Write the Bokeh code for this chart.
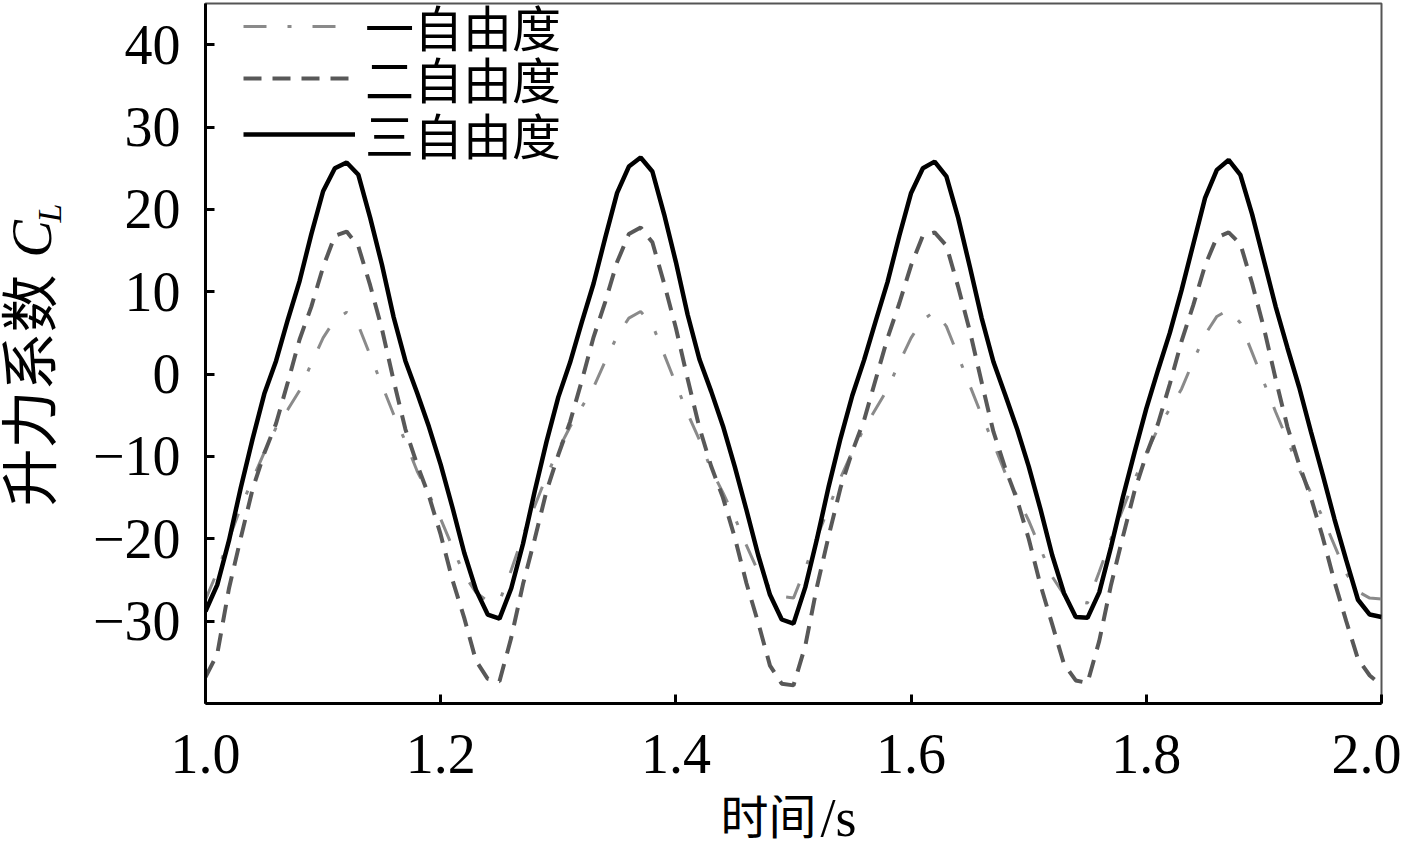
import numpy as np
from bokeh.plotting import figure
from bokeh.layouts import row, column
from bokeh.models import (Range1d, FixedTicker, Legend, LegendItem,
                          NumeralTickFormatter)
from bokeh.core.properties import value
from bokeh.embed import file_html
from bokeh.resources import INLINE

# ---------------- data ----------------
time_s = [round(1.0 + 0.01 * i, 2) for i in range(101)]

cl_1dof = [  # 一自由度 (dash-dot)
    -27.4, -24.0, -20.0, -16.2, -12.8, -9.5, -6.5, -4.3, -2.0, 1.3, 4.4, 6.6, 7.5,
    5.9, 2.3, -1.3, -4.9, -8.2, -11.8, -14.6, -17.6, -21.0, -24.4, -26.5, -27.6,
    -27.6, -23.8, -19.6, -16.0, -12.4, -9.2, -6.4, -4.0, -1.6, 1.6, 4.6, 6.8, 7.6,
    6.0, 2.4, -1.2, -4.8, -8.0, -11.6, -14.4, -17.4, -20.8, -24.0, -26.0, -27.0,
    -27.2, -23.6, -19.8, -16.2, -12.6, -9.4, -6.6, -4.2, -1.8, 1.4, 4.4, 6.6, 7.6,
    5.8, 2.2, -1.4, -5.0, -8.4, -12.0, -14.8, -17.8, -21.2, -24.6, -26.8, -27.6,
    -27.8, -24.0, -20.0, -16.4, -12.8, -9.6, -6.6, -4.2, -1.8, 1.6, 4.8, 7.0, 7.8,
    6.2, 2.6, -1.0, -4.6, -8.0, -11.6, -14.4, -17.4, -20.8, -24.2, -26.4, -27.2, -27.3,
]

cl_2dof = [  # 二自由度 (dashed)
    -36.8, -34.0, -26.0, -19.9, -14.0, -9.6, -6.0, -1.0, 4.2, 8.2, 13.0, 16.8, 17.3,
    15.5, 10.8, 5.5, -0.8, -6.7, -11.0, -14.8, -19.5, -25.0, -29.6, -34.8, -37.0,
    -37.3, -32.0, -25.5, -20.0, -14.2, -9.8, -5.8, -0.8, 4.5, 8.8, 13.6, 17.0, 17.8,
    16.0, 11.0, 5.6, -0.6, -6.5, -11.2, -15.0, -19.8, -25.4, -30.2, -35.4, -37.6,
    -37.8, -33.0, -25.8, -19.6, -13.8, -9.4, -5.6, -0.6, 4.4, 8.6, 13.2, 16.8, 17.2,
    15.6, 10.6, 5.2, -1.0, -7.0, -11.4, -15.2, -20.0, -25.6, -30.4, -35.2, -37.2,
    -37.5, -32.4, -25.6, -19.8, -14.2, -9.8, -6.0, -1.2, 4.0, 8.4, 13.2, 16.6, 17.2,
    15.8, 11.0, 5.6, -0.6, -6.4, -11.0, -15.0, -19.8, -25.2, -30.0, -34.6, -36.6, -37.8,
]

cl_3dof = [  # 三自由度 (solid)
    -28.8, -25.6, -20.2, -13.8, -7.9, -2.4, 1.6, 6.6, 11.3, 17.0, 22.2, 25.0, 25.7,
    24.2, 19.0, 13.3, 6.9, 1.6, -2.3, -6.4, -11.0, -16.2, -21.7, -26.2, -29.2,
    -29.7, -26.0, -20.6, -14.2, -8.2, -2.8, 1.4, 6.3, 11.0, 16.6, 22.0, 25.2, 26.3,
    24.6, 19.4, 13.6, 7.2, 1.8, -2.1, -6.3, -11.2, -16.5, -22.0, -26.8, -29.8,
    -30.3, -25.9, -20.0, -13.6, -7.8, -2.6, 1.7, 6.5, 11.2, 16.8, 22.0, 25.0, 25.8,
    24.0, 19.0, 13.0, 6.8, 1.5, -2.5, -6.6, -11.2, -16.4, -22.0, -26.6, -29.5,
    -29.6, -26.5, -21.0, -15.0, -9.5, -4.2, 0.5, 5.0, 10.2, 15.8, 21.4, 24.8, 26.0,
    24.2, 19.4, 13.8, 8.2, 3.2, -1.6, -7.0, -12.2, -17.6, -22.6, -27.4, -29.2, -29.5,
]

series_labels = ["一自由度", "二自由度", "三自由度"]
x_ticks = [1.0, 1.2, 1.4, 1.6, 1.8, 2.0]
y_ticks = [-30, -20, -10, 0, 10, 20, 30, 40]
y_tick_labels = {-30: "\u221230", -20: "\u221220", -10: "\u221210"}
x_title = ["时间", "/s"]
y_title = ["升力系数", "C", "L"]

CJK = "Noto Sans CJK SC"
SERIF = "Liberation Serif"

MAIN_H = 795          # height of the main figure
FRAME_TOP = 3
FRAME_BOTTOM = 703    # plot frame spans 3..703 px from the top

# ---------------- main figure ----------------
p = figure(width=1331, height=MAIN_H, output_backend="svg", toolbar_location=None,
           x_range=Range1d(1.0, 2.0), y_range=Range1d(-40.0, 45.0),
           min_border_left=135, min_border_right=20, min_border_top=FRAME_TOP,
           min_border_bottom=MAIN_H - FRAME_BOTTOM)
p.grid.visible = False
p.background_fill_color = "white"
p.border_fill_color = "white"
p.outline_line_color = "#555555"
p.outline_line_width = 2

for ax in (p.xaxis[0], p.yaxis[0]):
    ax.axis_line_width = 3
    ax.axis_line_color = "black"
    ax.major_tick_in = 9
    ax.major_tick_out = 0
    ax.major_tick_line_width = 3
    ax.major_tick_line_color = "black"
    ax.minor_tick_line_color = None
    ax.major_label_text_font = SERIF
    ax.major_label_text_font_size = "56px"
    ax.major_label_text_color = "black"

p.xaxis.major_label_standoff = 31
p.yaxis.major_label_standoff = 25
p.xaxis.ticker = FixedTicker(ticks=x_ticks)
p.xaxis.formatter = NumeralTickFormatter(format="0.0")
p.yaxis.ticker = FixedTicker(ticks=y_ticks)
p.yaxis.major_label_overrides = y_tick_labels

r1 = p.line(time_s, cl_1dof, line_color="#8a8a8a", line_width=3,
            line_dash="23 21 4 21")
r2 = p.line(time_s, cl_2dof, line_color="#585858", line_width=4,
            line_dash="18 11")
r3 = p.line(time_s, cl_3dof, line_color="black", line_width=4.5)

for rend, lab, ypos in ((r1, series_labels[0], 642),
                        (r2, series_labels[1], 590),
                        (r3, series_labels[2], 534)):
    lg = Legend(items=[LegendItem(label=lab, renderers=[rend])],
                location=(38, ypos), padding=0, margin=0, spacing=0,
                glyph_width=112, glyph_height=50, label_standoff=10,
                label_text_font=CJK, label_text_font_size="49px",
                label_text_color="black", border_line_alpha=0,
                background_fill_alpha=0)
    p.add_layout(lg)


def strip(w, h, yspan):
    s = figure(width=w, height=h, output_backend="svg", toolbar_location=None,
               x_range=Range1d(0, w), y_range=Range1d(0, yspan),
               x_axis_type=None, y_axis_type=None,
               min_border_left=0, min_border_right=0, min_border_top=0,
               min_border_bottom=0)
    s.grid.visible = False
    s.outline_line_color = None
    s.background_fill_color = "white"
    s.border_fill_color = "white"
    return s


# ---------------- y-axis title strip: 升力系数 C_L ----------------
# (its frame is aligned with the main frame: 700 px tall)
FH = FRAME_BOTTOM - FRAME_TOP
ys = strip(70, MAIN_H, FH)
ys.text(x=[25], y=[FRAME_BOTTOM - 506], text=[y_title[0]], angle=np.pi / 2,
        text_align="left", text_baseline="middle",
        text_font=value(CJK), text_font_size="58px", text_color="black")
ys.text(x=[31], y=[FRAME_BOTTOM - 257], text=[y_title[1]], angle=np.pi / 2,
        text_align="left", text_baseline="middle",
        text_font=value(SERIF), text_font_style="italic",
        text_font_size="56px", text_color="black")
ys.text(x=[49], y=[FRAME_BOTTOM - 222], text=[y_title[2]], angle=np.pi / 2,
        text_align="left", text_baseline="middle",
        text_font=value(SERIF), text_font_style="italic",
        text_font_size="34px", text_color="black")

# ---------------- x-axis title strip: 时间/s ----------------
XS_H = 840 - MAIN_H
xs = strip(1401, XS_H, XS_H)
xs.text(x=[720], y=[28], text=[x_title[0]], text_align="left",
        text_baseline="middle", text_font=value(CJK),
        text_font_size="48px", text_color="black")
xs.text(x=[820], y=[23], text=[x_title[1]], text_align="left",
        text_baseline="middle", text_font=value(SERIF),
        text_font_size="54px", text_color="black")

layout = column(row(ys, p, spacing=0), xs, spacing=0)
open("out.html", "w").write(file_html(layout, INLINE))
